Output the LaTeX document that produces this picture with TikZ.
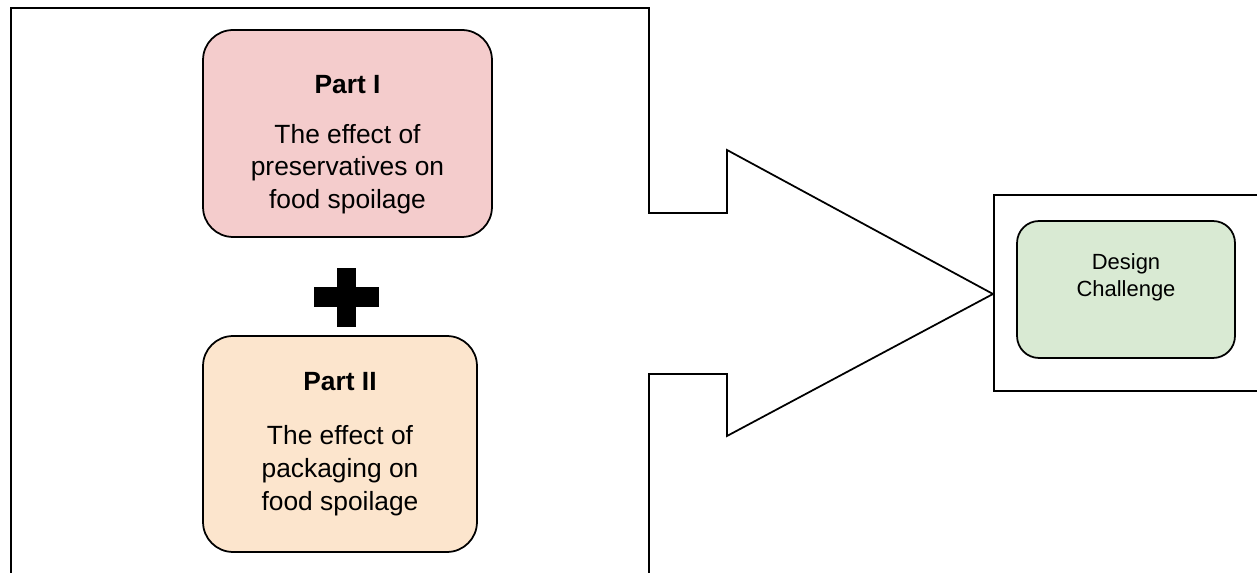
\documentclass[tikz,border=0pt]{standalone}
\usepackage{fontspec}
\setmainfont{Liberation Sans}
\usepackage{xcolor}
\usetikzlibrary{positioning}
\definecolor{partpink}{HTML}{F4CCCC}
\definecolor{partpeach}{HTML}{FCE5CD}
\definecolor{designgreen}{HTML}{D9EAD3}

\begin{document}
\begin{tikzpicture}[
    x=0.02cm, y=-0.02cm,
    part/.style={draw, line width=1pt, rounded corners=0.6cm, align=center, font=\fontsize{15}{18.7}\selectfont},
    design/.style={draw, line width=1pt, rounded corners=0.44cm, fill=designgreen, align=center, minimum width=4.36cm, minimum height=2.74cm, text depth=0.58cm, font=\fontsize{12.5}{15.3}\selectfont},
    outline/.style={line width=1pt, line join=miter},
]
\useasboundingbox (0,0) rectangle (1257,573);
\clip (0,0) rectangle (1257,573);

% Big arrow outline
\draw[outline] (11,600) -- (11,8) -- (649,8) -- (649,213) -- (727,213) -- (727,150)
    -- (993,294) -- (727,436) -- (727,374) -- (649,374) -- (649,600);

% Parts
\node[part, fill=partpink, minimum width=5.78cm, minimum height=4.14cm] (part1) at (347.5,133.5)
    {\rule{0pt}{0.81cm}\textbf{Part I}\\[0.34cm]The effect of\\preservatives on\\food spoilage};
\node[part, fill=partpeach, minimum width=5.48cm, minimum height=4.32cm] (part2) at (340,444)
    {\textbf{Part II}\\[0.42cm]The effect of\\packaging on\\food spoilage};

% Plus sign
\fill (337,268) rectangle (356,327);
\fill (314,287) rectangle (379,307);

% Design challenge
\node[draw, line width=1pt, anchor=north west, minimum width=5.8cm, minimum height=3.92cm] (frame) at (993,194) {};
\node[design] (design) at (1126,289.5) {Design\\Challenge};
\end{tikzpicture}
\end{document}
